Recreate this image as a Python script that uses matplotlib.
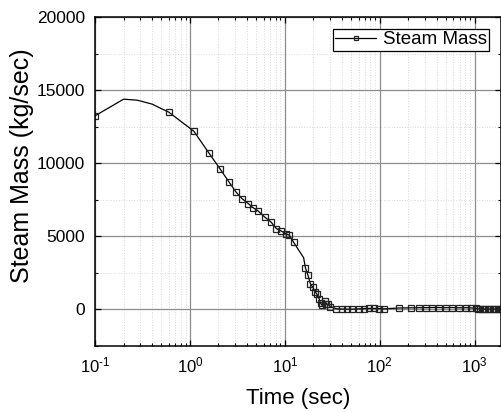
import matplotlib
matplotlib.use('Agg')
import matplotlib.pyplot as plt
import numpy as np
from matplotlib.ticker import LogLocator, MultipleLocator, NullFormatter, FuncFormatter

plt.rcParams['font.family'] = ['Liberation Sans', 'DejaVu Sans']
plt.rcParams['mathtext.fontset'] = 'custom'
plt.rcParams['mathtext.rm'] = 'Liberation Sans'
plt.rcParams['mathtext.it'] = 'Liberation Sans'
plt.rcParams['axes.unicode_minus'] = False

# data
time = [0.1, 0.2, 0.28, 0.4, 0.6, 1.1, 1.59, 2.09, 2.58, 3.08, 3.54, 4.13, 4.63,
        5.22, 6.19, 7.16, 8.15, 9.14, 10.2, 11.2, 12.4, 15.8, 16.5, 17.5, 18.6,
        19.7, 21.0, 21.9, 23.0, 23.8, 24.8, 26.4, 27.5, 28.6, 30.2, 34.8, 40.3,
        45.5, 51.4, 60.3, 68.1, 76.9, 86.9, 98.1, 110.8, 159.5, 212, 259, 305,
        359, 422, 497, 585, 686, 807, 912, 1030, 1090, 1150, 1220, 1300, 1380,
        1460, 1550, 1650, 1750, 1850, 1950]
steam_mass = [13240, 14380, 14310, 14040, 13490, 12190, 10690, 9590, 8720, 8010,
              7580, 7240, 6960, 6740, 6300, 5980, 5530, 5370, 5180, 5070, 4590,
              3540, 2850, 2370, 1760, 1530, 1190, 1030, 730, 430, 270, 570, 390,
              340, 200, 50, 30, 20, 20, 40, 60, 70, 70, 60, 40, 100, 110, 120,
              120, 130, 130, 120, 130, 110, 120, 110, 80, 40, 30, 30, 30, 30, 30,
              30, 30, 30, 30, 30]
# line vertices drawn without a marker
unmarked = [0.2, 0.28, 0.4, 15.8]

yticks = [0, 5000, 10000, 15000, 20000]


def pow10(v, pos):
    e = int(round(np.log10(v)))
    return r'10$^{\text{%d}}$' % e


fig = plt.figure(figsize=(5.01, 4.12), dpi=100)
ax = fig.add_axes([95 / 501, 1 - 346 / 412, 1 - 95 / 501, (346 - 17) / 412])

marks = [i for i, t in enumerate(time) if t not in unmarked]
ax.plot(time, steam_mass, color='black', lw=0.9, marker='s', markersize=5,
        mfc='none', mec='#222222', mew=0.9, markevery=marks, label='Steam Mass')

ax.set_xscale('log')
ax.set_xlim(0.1, 1900)
ax.set_ylim(-2500, 20000)
ax.set_yticks(yticks)
ax.yaxis.set_minor_locator(MultipleLocator(2500))
ax.xaxis.set_major_locator(LogLocator(base=10, numticks=10))
ax.xaxis.set_major_formatter(FuncFormatter(pow10))
ax.xaxis.set_minor_locator(LogLocator(base=10, subs=range(2, 10), numticks=20))
ax.xaxis.set_minor_formatter(NullFormatter())

# grid
ax.grid(which='major', color='#8c8c8c', lw=0.9, ls='-')
ax.grid(which='minor', color='#d9d9d9', lw=0.7, ls=':')
ax.set_axisbelow(True)

ax.tick_params(which='both', direction='in', top=True, right=True, color='black')
ax.tick_params(which='major', length=4, width=0.9)
ax.tick_params(which='minor', length=2.5, width=0.8)
ax.tick_params(axis='y', labelsize=12.5, pad=7)
ax.tick_params(axis='x', labelsize=12, pad=7)
for s in ax.spines.values():
    s.set_linewidth(1.1)

ax.set_xlabel('Time (sec)', fontsize=16, labelpad=9)
ax.set_ylabel('Steam Mass (kg/sec)', fontsize=18)
ax.yaxis.set_label_coords(-0.150, 0.547)

leg = ax.legend(loc='upper right', bbox_to_anchor=(489 / 501, 1 - 29 / 412),
                bbox_transform=fig.transFigure, borderaxespad=0, fancybox=False,
                framealpha=1, edgecolor='black', fontsize=13.5, borderpad=0.12,
                handlelength=2.2, handletextpad=0.35, markerscale=0.6)
leg.get_frame().set_linewidth(0.9)

fig.savefig('out.png', dpi=100)
